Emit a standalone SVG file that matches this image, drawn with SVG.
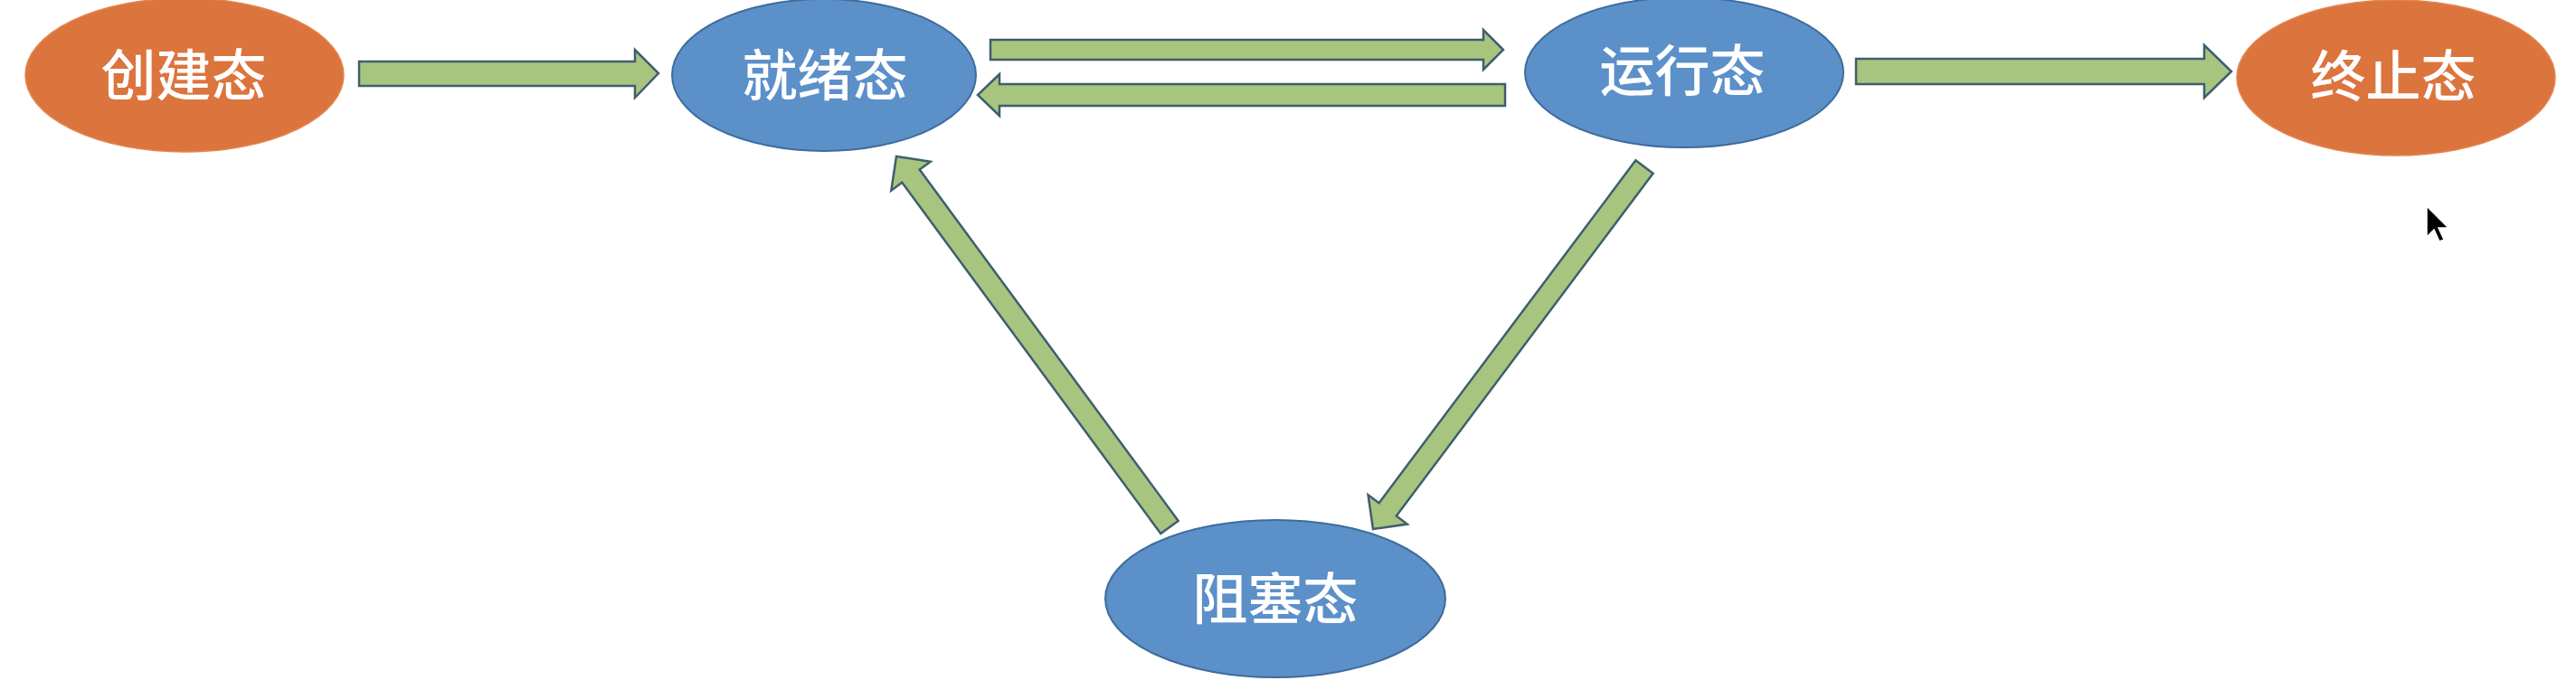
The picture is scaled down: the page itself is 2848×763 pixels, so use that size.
<svg xmlns="http://www.w3.org/2000/svg" width="2848" height="763" viewBox="0 0 2848 763">
  <style>
    .blue { fill: #5B90C9; stroke: #3E6C9C; stroke-width: 2; }
    .orange { fill: #DC743E; stroke: #E2864F; stroke-width: 1.5; }
    .label { font-family: "Noto Sans CJK SC", "Noto Sans", sans-serif; font-size: 61px; font-weight: 500; fill: #FFFFFF; text-anchor: middle; dominant-baseline: central; }
    .arrow { fill: #A8C57F; stroke: #3F5E6F; stroke-width: 2.5; stroke-linejoin: miter; }
  </style>
  <rect x="0" y="0" width="2848" height="763" fill="#FFFFFF"/>

  <g id="connectors">
    <polygon id="a-create-ready" class="arrow" points="397,68 702,68 702,55 728,81 702,108 702,95 397,95"/>
    <polygon id="a-ready-run" class="arrow" points="1095,44 1640,44 1640,33 1662,55 1640,77 1640,66 1095,66"/>
    <polygon id="a-run-ready" class="arrow" points="1664,93 1105,93 1105,82 1081,105 1105,128 1105,117 1664,117"/>
    <polygon id="a-run-end" class="arrow" points="2052,65 2437,65 2437,50 2467,79 2437,108 2437,93 2052,93"/>
    <polygon id="a-block-ready" class="arrow" points="1302.7,575.9 1016.7,187.6 1028.7,178.7 991,173 985.3,210.7 997.3,201.8 1283.3,590.1"/>
    <polygon id="a-run-block" class="arrow" points="1827.6,191.7 1543.8,570.6 1555.8,579.6 1518,585 1512.6,547.2 1524.6,556.2 1808.4,177.3"/>
  </g>

  <g id="node-create">
    <ellipse class="orange" cx="204" cy="83" rx="176" ry="85"/>
    <text class="label" x="203" y="79">创建态</text>
  </g>
  <g id="node-ready">
    <ellipse class="blue" cx="911" cy="83" rx="168" ry="84"/>
    <text class="label" x="912" y="79">就绪态</text>
  </g>
  <g id="node-running">
    <ellipse class="blue" cx="1862" cy="80" rx="176" ry="83"/>
    <text class="label" x="1860" y="74">运行态</text>
  </g>
  <g id="node-terminated">
    <ellipse class="orange" cx="2649" cy="86" rx="176" ry="86"/>
    <text class="label" x="2646" y="80">终止态</text>
  </g>
  <g id="node-blocked">
    <ellipse class="blue" cx="1410" cy="662" rx="188" ry="87"/>
    <text class="label" x="1410" y="658">阻塞态</text>
  </g>

  <g id="cursor">
    <polygon points="2683,228 2683,262 2691,254 2697,267 2702,265 2696,252 2707,252" fill="#000000" stroke="#FFFFFF" stroke-width="1.5"/>
  </g>
</svg>
